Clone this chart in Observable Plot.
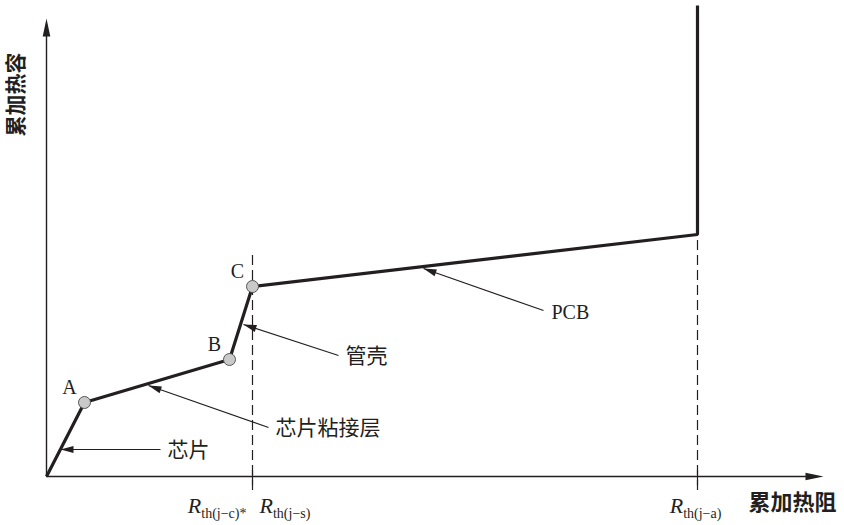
<!DOCTYPE html>
<html><head><meta charset="utf-8">
<script src="https://cdn.jsdelivr.net/npm/d3@7"></script>
<script src="https://cdn.jsdelivr.net/npm/@observablehq/plot@0.6"></script>
<style>body{margin:0;background:#fff} svg{display:block}</style>
</head><body><div id="chart"></div>
<script>
// Structure-function curve (cumulative thermal resistance vs cumulative thermal capacitance), arbitrary units
const pointNames = ["O", "A", "B", "C", "D", "E"];
const cumR = [0, 38, 183, 206, 651, 651];
const cumC = [0, 74, 117, 190, 242, 471];
const markedPoints = ["A", "B", "C"];

// annotations: label, arrow head (on curve), arrow tail (near text)
const annLabels = ["芯片", "芯片粘接层", "管壳", "PCB"];
const annHeadR = [14, 102, 197, 377];
const annHeadC = [27, 91, 152, 208];
const annTailR = [114, 222, 292, 497];
const annTailC = [27, 49, 121, 166];

// reference resistances on the x axis
const refSubs = ["th(j−c)*", "th(j−s)", "th(j−a)"];
const refR = [206, 206, 651];
const refAnchor = ["end", "start", "middle"];
const dashR = [206, 651];
const dashTop = [221, 242];

const xTitle = "累加热阻";
const yTitle = "累加热容";
const xMax = 777, yMax = 458;

const ink = "#231f20";
const serif = "'Liberation Serif','Times New Roman',serif";
const cjk = "'Noto Sans CJK SC','Noto Sans',sans-serif";

const pts = pointNames.map((n, i) => ({name: n, r: cumR[i], c: cumC[i]}));
const marked = pts.filter(d => markedPoints.includes(d.name));
const anns = annLabels.map((l, i) => ({label: l, hr: annHeadR[i], hc: annHeadC[i], tr: annTailR[i], tc: annTailC[i]}));
const isLatin = d => /^[A-Za-z]+$/.test(d.label);

// filled triangular arrowheads (1 unit = 1 px in both directions)
function head(id, tipX, tipY, fromX, fromY, len, half) {
  const dx = tipX - fromX, dy = tipY - fromY, L = Math.hypot(dx, dy);
  const ux = dx / L, uy = dy / L, px = -uy, py = ux;
  const bx = tipX - ux * len, by = tipY - uy * len;
  return [
    {id, x: tipX, y: tipY},
    {id, x: bx + px * half, y: by + py * half},
    {id, x: bx - px * half, y: by - py * half}
  ];
}
const heads = [
  ...anns.flatMap((d, i) => head("a" + i, d.hr, d.hc, d.tr, d.tc, 13, 3.6)),
  ...head("xaxis", xMax, 0, 0, 0, 18, 3.8),
  ...head("yaxis", 0, yMax, 0, 0, 18, 3.8)
];

const rLabelMarks = refSubs.map((s, i) => Plot.text([i], {
  x: j => refR[j], y: () => -36, text: j => refSubs[j],
  textAnchor: refAnchor[i], dx: [-6, 7, -2][i], lineAnchor: "bottom",
  fontFamily: serif, fontSize: 14, fill: ink
}));

const chart = Plot.plot({
  width: 844, height: 525,
  marginLeft: 46, marginRight: 0, marginTop: 0, marginBottom: 49,
  x: {domain: [0, 798], axis: null},
  y: {domain: [0, 476], axis: null},
  style: {background: "#fff", overflow: "visible"},
  marks: [
    // dashed reference lines
    Plot.ruleX(dashR, {x: d => d, y1: () => -14, y2: (d, i) => dashTop[i], stroke: ink, strokeWidth: 1.2, strokeDasharray: "10,5"}),
    Plot.ruleX(dashR, {x: d => d, y1: () => -9, y2: () => 6, stroke: ink, strokeWidth: 1.2}),
    // axes
    Plot.ruleY([0], {x1: 0, x2: xMax - 10, stroke: ink, strokeWidth: 1.4}),
    Plot.ruleX([0], {y1: 0, y2: yMax - 10, stroke: ink, strokeWidth: 1.4}),
    // annotation leader lines
    Plot.link(anns, {x1: "tr", y1: "tc", x2: "hr", y2: "hc", stroke: ink, strokeWidth: 1.2}),
    Plot.line(heads, {x: "x", y: "y", z: "id", fill: ink, stroke: "none"}),
    // the curve
    Plot.line(pts, {x: "r", y: "c", stroke: ink, strokeWidth: 3.2, strokeLinejoin: "miter", strokeLinecap: "butt"}),
    Plot.dot(marked, {x: "r", y: "c", r: 6, fill: "#c9c9c9", stroke: "#555", strokeWidth: 1}),
    // point letters
    Plot.text(marked, {x: "r", y: "c", text: "name", dx: -15, dy: -15, fontFamily: serif, fontSize: 20, fill: ink}),
    // annotation texts
    Plot.text(anns.filter(d => !isLatin(d)), {x: "tr", y: "tc", text: "label", dx: 7, dy: 1, textAnchor: "start",
      fontFamily: cjk, fontSize: 21, fill: ink}),
    Plot.text(anns.filter(isLatin), {x: "tr", y: "tc", text: "label", dx: 8, dy: 2, textAnchor: "start",
      fontFamily: serif, fontSize: 20, fill: ink}),
    ...rLabelMarks,
    // axis titles
    Plot.text([xTitle], {x: () => 702, y: () => -26, text: d => d, textAnchor: "start", fontFamily: cjk, fontWeight: 600, fontSize: 22, fill: ink}),
    Plot.text([yTitle], {x: () => -30, y: () => 382, text: d => d, rotate: -90, fontFamily: cjk, fontWeight: 600, fontSize: 21, fill: ink})
  ]
});

// italic R with subscript
d3.select(chart).selectAll("text").each(function () {
  const s = this.textContent;
  if (refSubs.includes(s)) {
    this.textContent = "";
    const t = d3.select(this);
    t.append("tspan").attr("font-style", "italic").attr("font-size", 22).text("R");
    t.append("tspan").attr("font-size", 14).attr("dy", 5).text(s);
  }
});

document.getElementById("chart").appendChild(chart);
</script>
</body></html>
